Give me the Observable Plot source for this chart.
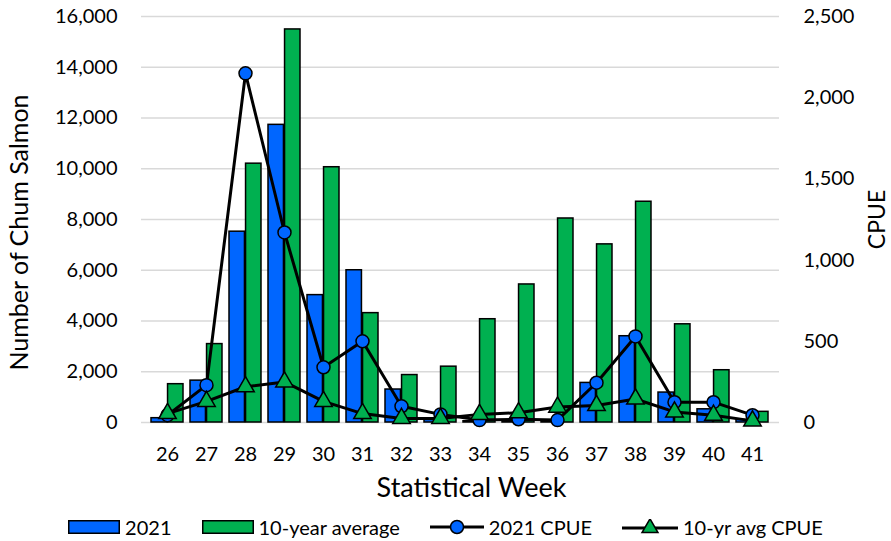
<!DOCTYPE html>
<html>
<head>
<meta charset="utf-8">
<script src="https://cdn.jsdelivr.net/npm/d3@7"></script>
<script src="https://cdn.jsdelivr.net/npm/@observablehq/plot@0.6"></script>
<style>
  html, body { margin: 0; padding: 0; background: #fff; }
  body { width: 891px; height: 541px; overflow: hidden; font-family: Lato, "Open Sans", sans-serif; }
  #legend { height: 36px; margin-top: 4px; display: flex; justify-content: center; align-items: center; font-size: 20px; color: #000; }
  .item { display: flex; align-items: center; margin: 0 15px; }
  .item svg { margin-right: 5px; }
</style>
</head>
<body>
<div id="chart"></div>
<div id="legend"></div>
<script>
// ---- data ----
const weeks = [26, 27, 28, 29, 30, 31, 32, 33, 34, 35, 36, 37, 38, 39, 40, 41];
const catch2021 = [170, 1650, 7520, 11730, 5020, 6000, 1300, 100, 50, 30, 20, 1560, 3400, 1180, 520, 100];
const catchAvg = [1510, 3090, 10200, 15490, 10060, 4310, 1870, 2200, 4070, 5440, 8040, 7020, 8700, 3870, 2060, 420];
const cpue2021 = [45, 230, 2150, 1170, 340, 500, 100, 50, 15, 20, 15, 245, 530, 125, 125, 45];
const cpueAvg = [55, 130, 220, 250, 130, 55, 25, 25, 50, 60, 95, 105, 145, 65, 45, 10];
const leftTicks = [0, 2000, 4000, 6000, 8000, 10000, 12000, 14000, 16000];
const rightTicks = [0, 500, 1000, 1500, 2000, 2500];
const seriesNames = ["2021", "10-year average", "2021 CPUE", "10-yr avg CPUE"];

const BLUE = "#0066ff", GREEN = "#00b050";
const leftMax = 16000, rightMax = 2500, k = leftMax / rightMax;
const rows = weeks.map((w, i) => ({
  week: String(w),
  c2021: catch2021[i],
  cavg: catchAvg[i],
  p2021: cpue2021[i] * k,
  pavg: cpueAvg[i] * k
}));
const fmt = d3.format(",");

const chart = Plot.plot({
  width: 891,
  height: 505,
  marginLeft: 141,
  marginRight: 112,
  marginTop: 16,
  marginBottom: 83,
  style: { fontFamily: "Lato, 'Open Sans', sans-serif", fontSize: "20px", color: "#000", background: "#fff" },
  x: { domain: weeks.map(String), paddingInner: 0.17, paddingOuter: 0.085, axis: null },
  y: { domain: [0, leftMax], axis: null },
  marks: [
    Plot.gridY(leftTicks, { stroke: "#d9d9d9", strokeOpacity: 1, strokeWidth: 1.5 }),
    Plot.barY(rows, { x: "week", y: "c2021", fill: BLUE, stroke: "#000", strokeWidth: 1.5, insetRight: 16.55, insetLeft: 0 }),
    Plot.barY(rows, { x: "week", y: "cavg", fill: GREEN, stroke: "#000", strokeWidth: 1.5, insetLeft: 16.55, insetRight: 0 }),
    Plot.lineY(rows, { x: "week", y: "p2021", stroke: "#000", strokeWidth: 3 }),
    Plot.dot(rows, { x: "week", y: "p2021", r: 6.5, symbol: "circle", fill: BLUE, stroke: "#000", strokeWidth: 1.5 }),
    Plot.lineY(rows, { x: "week", y: "pavg", stroke: "#000", strokeWidth: 3 }),
    Plot.dot(rows, { x: "week", y: "pavg", r: 6.5, symbol: "triangle", fill: GREEN, stroke: "#000", strokeWidth: 1.5 }),
    Plot.axisX({ tickSize: 0, tickPadding: 24, label: null, fontSize: 20 }),
    Plot.axisY(leftTicks, { anchor: "left", tickSize: 0, tickPadding: 24, tickFormat: fmt, label: null, fontSize: 20 }),
    Plot.axisY(rightTicks.map(v => v * k), { anchor: "right", tickSize: 0, tickPadding: 24, tickFormat: d => fmt(Math.round(d / k)), label: null, fontSize: 20 }),
    Plot.text(["Number of Chum Salmon"], { frameAnchor: "left", textAnchor: "middle", lineAnchor: "middle", rotate: -90, dx: -122, dy: 13, fontSize: 25, fill: "#000" }),
    Plot.text(["CPUE"], { frameAnchor: "right", textAnchor: "middle", lineAnchor: "middle", rotate: -90, dx: 98, fontSize: 23, fill: "#000" }),
    Plot.text(["Statistical Week"], { frameAnchor: "bottom", textAnchor: "middle", lineAnchor: "middle", dx: 11, dy: 66, fontSize: 27, fill: "#000" })
  ]
});
document.getElementById("chart").appendChild(chart);

// ---- legend ----
const triPath = d3.symbol(d3.symbolTriangle).size(110)();
const swatches = [
  `<svg width="52" height="14"><rect x="0.75" y="0.75" width="50.5" height="12.5" fill="${BLUE}" stroke="#000" stroke-width="1.5"/></svg>`,
  `<svg width="52" height="14"><rect x="0.75" y="0.75" width="50.5" height="12.5" fill="${GREEN}" stroke="#000" stroke-width="1.5"/></svg>`,
  `<svg width="54" height="16"><line x1="0" y1="8" x2="54" y2="8" stroke="#000" stroke-width="3"/><circle cx="27" cy="8" r="6.5" fill="${BLUE}" stroke="#000" stroke-width="1.5"/></svg>`,
  `<svg width="56" height="16"><line x1="0" y1="9" x2="56" y2="9" stroke="#000" stroke-width="3"/><path transform="translate(28,9)" d="${triPath}" fill="${GREEN}" stroke="#000" stroke-width="1.5"/></svg>`
];
document.getElementById("legend").innerHTML = seriesNames.map((n, i) =>
  `<div class="item">${swatches[i]}<span>${n}</span></div>`).join("");
</script>
</body>
</html>
